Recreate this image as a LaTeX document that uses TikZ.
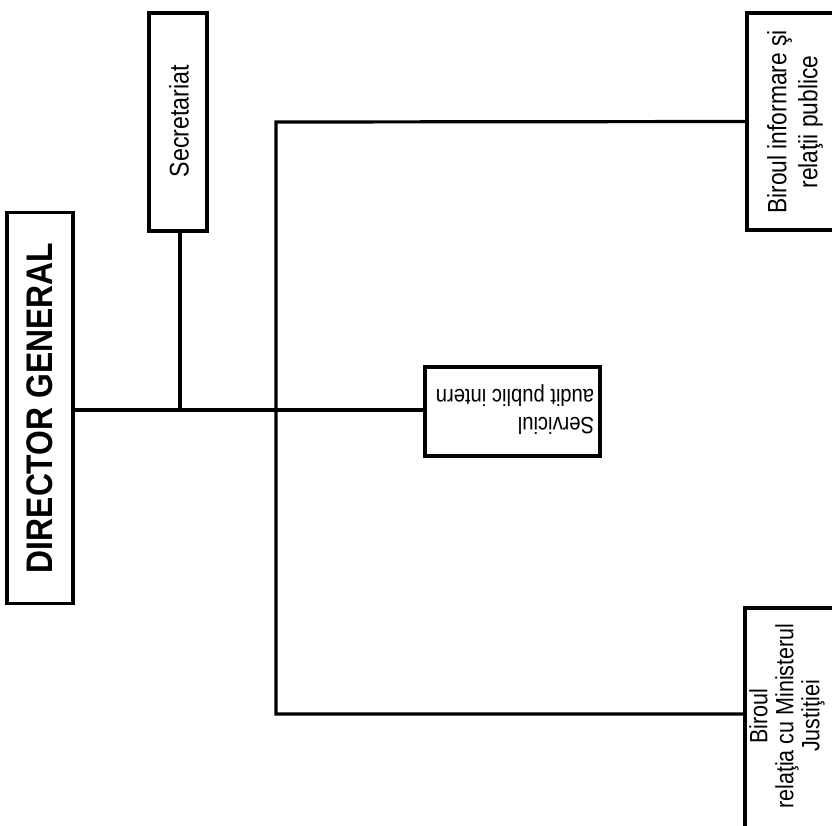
\documentclass[tikz,border=0pt]{standalone}
\usepackage{fontspec}
\setmainfont{Liberation Sans}[FakeStretch=0.86]
\begin{document}
\begin{tikzpicture}[x=1pt,y=-1pt,
  box/.style={draw=black, line width=3.2pt, fill=white, inner sep=0pt},
  wire/.style={draw=black, line width=3.2pt},
  lbl/.style={inner sep=0pt, align=center, font=\fontsize{25}{28}\selectfont}]
\useasboundingbox (0,0) rectangle (832,825);
\clip (0,0) rectangle (832,825);

% boxes
\node[box, minimum width=66pt, minimum height=391pt] (dg) at (40,408) {};
\node[box, minimum width=58pt, minimum height=218pt] (sec) at (178,122) {};
\node[box, minimum width=175pt, minimum height=89pt] (serv) at (512.5,411.5) {};
\node[box, minimum width=98pt, minimum height=217pt] (bip) at (796,121.5) {};
\node[box, minimum width=105pt, minimum height=232pt] (brm) at (797.5,724) {};

% junction points
\coordinate (j) at (180,410);
\coordinate (bt) at (276,122);
\coordinate (bb) at (276,714);

% connectors
\draw[wire] (dg.east |- j) -- (serv.west |- j);
\draw[wire] (j |- sec.south) -- (j);
\draw[wire] (bip.west) -- (bt) -- (bb) -- (brm.west |- bb);

% labels
\node[lbl, rotate=90, font=\fontsize{37}{40}\selectfont\bfseries] (dg-t) at (40,408) {DIRECTOR GENERAL};
\node[lbl, rotate=90, font=\fontsize{27}{30}\selectfont] (sec-t) at (179,121) {Secretariat};
\node[lbl, rotate=180, align=left, font=\fontsize{23.5}{28}\selectfont] (serv-t) at (515,410) {Serviciul\\audit public intern};
\node[lbl, rotate=90, font=\fontsize{26.5}{31}\selectfont] (bip-t) at (795,122) {Biroul informare şi\\relaţii publice};
\node[lbl, rotate=90, font=\fontsize{25}{26}\selectfont] (brm-t) at (787,716) {Biroul\\relaţia cu Ministerul\\Justiţiei};
\end{tikzpicture}
\end{document}
